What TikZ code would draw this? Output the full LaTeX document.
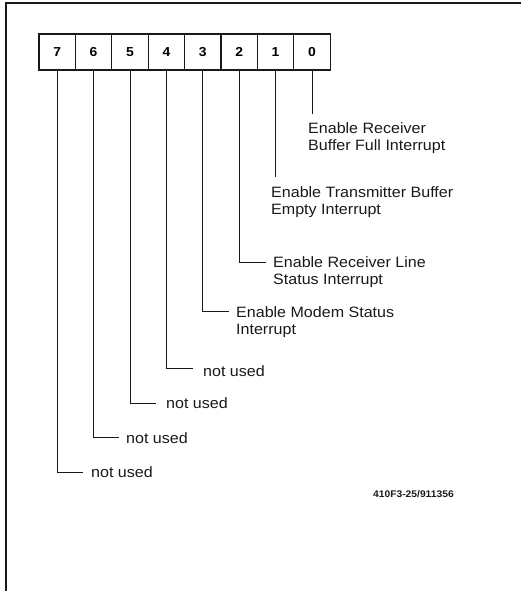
\documentclass[tikz,border=0pt]{standalone}
\usepackage{fontspec}
\setmainfont{Liberation Sans}[FakeStretch=1.07]
\usepackage{tikz}
\usetikzlibrary{positioning,calc}
\definecolor{inkgray}{RGB}{25,25,25}

\tikzset{
  bitcell/.style={draw=inkgray, line width=1.3pt, minimum width=36.4pt, minimum height=36pt,
                  inner sep=0pt, font=\fontsize{13}{13}\selectfont\bfseries},
  leader/.style={draw=inkgray, line width=1pt},
  bitlabel/.style={inner sep=0pt, anchor=base west, align=left, text=inkgray,
                   font=\fontsize{15}{17}\selectfont}
}

\begin{document}
\begin{tikzpicture}[x=1pt,y=-1pt]
  \useasboundingbox (0,0) rectangle (521,591);

  % ── Frame ──
  \draw[inkgray, line width=1.1pt] (6,591) -- (6,3) -- (521,3);

  % ── Register cells ──
  \foreach \b [count=\i from 0] in {7,6,5,4,3,2,1,0}
    \node[bitcell] (b\b) at ({57.2+36.4*\i},52) {\b};

  % ── Labels (base = last line) ──
  \node[bitlabel] (l0) at (308,150) {Enable Receiver\\Buffer Full Interrupt};
  \node[bitlabel] (l1) at (271,214) {Enable Transmitter Buffer\\Empty Interrupt};
  \node[bitlabel] (l2) at (273,284) {Enable Receiver Line\\Status Interrupt};
  \node[bitlabel] (l3) at (236,334) {Enable Modem Status\\Interrupt};
  \node[bitlabel] (l4) at (203,376) {not used};
  \node[bitlabel] (l5) at (166,408) {not used};
  \node[bitlabel] (l6) at (126,443) {not used};
  \node[bitlabel] (l7) at (91,477) {not used};

  % ── Leader ends ──
  \coordinate (e0) at (b0.south |- 0,114);
  \coordinate (e1) at (b1.south |- 0,177);
  \coordinate (e2) at (266,262);
  \coordinate (e3) at (229,311);
  \coordinate (e4) at (193,368);
  \coordinate (e5) at (156,403);
  \coordinate (e6) at (119,437);
  \coordinate (e7) at (83,472);

  % ── Leaders ──
  \draw[leader] (b0.south) -- (e0);
  \draw[leader] (b1.south) -- (e1);
  \foreach \b in {2,...,7}
    \draw[leader] (b\b.south) |- (e\b);

  % ── Figure number ──
  \node[inner sep=0pt, anchor=base west, text=inkgray, font=\fontsize{9.6}{10}\selectfont\bfseries]
    (fignum) at (373,497) {410F3-25/911356};
\end{tikzpicture}
\end{document}
